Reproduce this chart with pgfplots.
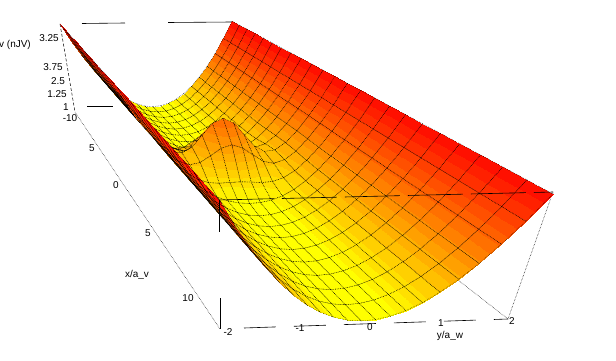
\documentclass[border=0pt]{standalone}
\usepackage{pgfplots}
\usepackage{pgfplotstable}
\pgfplotsset{compat=1.18}
\usepackage{fontspec}
\setmainfont{Liberation Sans}
\def\Ss{((\thisrow{x}+2)/4)}
\def\Tt{((\thisrow{y}+11)/23)}
\def\Rr{((\thisrow{z}+0.5)/8)}
\def\Ww{(1+0.00115*\Ss-0.442*\Tt-0.0908*\Rr)}
\def\Uu{(75+156.65*\Ss+47.8*\Tt-20.45*\Rr)/\Ww}
\def\Vv{(112-2.6*\Ss+71.6*\Tt-90.18*\Rr)/\Ww}
\pgfplotstableread[row sep=\\]{
x y z\\
2 -11 7.5\\1.8 -11 6.056\\1.6 -11 4.764\\1.4 -11 3.624\\1.2 -11 2.636\\1 -11 1.8\\.8 -11 1.116\\.6 -11 .584\\.4 -11 .204\\.2 -11 -.024\\0 -11 -.1\\-.2 -11 -.024\\-.4 -11 .204\\-.6 -11 .584\\-.8 -11 1.116\\-1 -11 1.8\\-1.2 -11 2.636\\-1.4 -11 3.624\\-1.6 -11 4.764\\-1.8 -11 6.056\\-2 -11 7.5\\
2 -10 7.5\\1.8 -10 6.056\\1.6 -10 4.764\\1.4 -10 3.624\\1.2 -10 2.636\\1 -10 1.8\\.8 -10 1.116\\.6 -10 .584\\.4 -10 .204\\.2 -10 -.024\\0 -10 -.1\\-.2 -10 -.024\\-.4 -10 .204\\-.6 -10 .584\\-.8 -10 1.116\\-1 -10 1.8\\-1.2 -10 2.636\\-1.4 -10 3.624\\-1.6 -10 4.764\\-1.8 -10 6.056\\-2 -10 7.5\\
2 -9 7.5\\1.8 -9 6.056\\1.6 -9 4.764\\1.4 -9 3.624\\1.2 -9 2.636\\1 -9 1.8\\.8 -9 1.116\\.6 -9 .584\\.4 -9 .204\\.2 -9 -.024\\0 -9 -.1\\-.2 -9 -.024\\-.4 -9 .204\\-.6 -9 .584\\-.8 -9 1.116\\-1 -9 1.8\\-1.2 -9 2.636\\-1.4 -9 3.624\\-1.6 -9 4.764\\-1.8 -9 6.056\\-2 -9 7.5\\
2 -8 7.5\\1.8 -8 6.056\\1.6 -8 4.764\\1.4 -8 3.624\\1.2 -8 2.636\\1 -8 1.8\\.8 -8 1.116\\.6 -8 .584\\.4 -8 .204\\.2 -8 -.024\\0 -8 -.1\\-.2 -8 -.024\\-.4 -8 .204\\-.6 -8 .584\\-.8 -8 1.116\\-1 -8 1.8\\-1.2 -8 2.636\\-1.4 -8 3.624\\-1.6 -8 4.764\\-1.8 -8 6.056\\-2 -8 7.5\\
2 -7 7.5\\1.8 -7 6.056\\1.6 -7 4.764\\1.4 -7 3.624\\1.2 -7 2.636\\1 -7 1.8\\.8 -7 1.116\\.6 -7 .584\\.4 -7 .204\\.2 -7 -.024\\0 -7 -.1\\-.2 -7 -.024\\-.4 -7 .204\\-.6 -7 .584\\-.8 -7 1.116\\-1 -7 1.8\\-1.2 -7 2.636\\-1.4 -7 3.624\\-1.6 -7 4.764\\-1.8 -7 6.056\\-2 -7 7.5\\
2 -6 7.5\\1.8 -6 6.056\\1.6 -6 4.764\\1.4 -6 3.624\\1.2 -6 2.636\\1 -6 1.8\\.8 -6 1.116\\.6 -6 .584\\.4 -6 .204\\.2 -6 -.024\\0 -6 -.1\\-.2 -6 -.024\\-.4 -6 .204\\-.6 -6 .584\\-.8 -6 1.116\\-1 -6 1.8\\-1.2 -6 2.636\\-1.4 -6 3.624\\-1.6 -6 4.764\\-1.8 -6 6.056\\-2 -6 7.5\\
2 -5 7.5\\1.8 -5 6.056\\1.6 -5 4.764\\1.4 -5 3.624\\1.2 -5 2.636\\1 -5 1.8\\.8 -5 1.116\\.6 -5 .584\\.4 -5 .204\\.2 -5 -.024\\0 -5 -.1\\-.2 -5 -.024\\-.4 -5 .204\\-.6 -5 .584\\-.8 -5 1.116\\-1 -5 1.8\\-1.2 -5 2.636\\-1.4 -5 3.624\\-1.6 -5 4.764\\-1.8 -5 6.056\\-2 -5 7.5\\
2 -4 7.5\\1.8 -4 6.056\\1.6 -4 4.764\\1.4 -4 3.624\\1.2 -4 2.637\\1 -4 1.802\\.8 -4 1.12\\.6 -4 .592\\.4 -4 .217\\.2 -4 -.007\\0 -4 -.081\\-.2 -4 -.007\\-.4 -4 .217\\-.6 -4 .592\\-.8 -4 1.12\\-1 -4 1.802\\-1.2 -4 2.637\\-1.4 -4 3.624\\-1.6 -4 4.764\\-1.8 -4 6.056\\-2 -4 7.5\\
2 -3 7.5\\1.8 -3 6.056\\1.6 -3 4.764\\1.4 -3 3.626\\1.2 -3 2.642\\1 -3 1.818\\.8 -3 1.16\\.6 -3 .671\\.4 -3 .346\\.2 -3 .167\\0 -3 .111\\-.2 -3 .167\\-.4 -3 .346\\-.6 -3 .671\\-.8 -3 1.16\\-1 -3 1.818\\-1.2 -3 2.642\\-1.4 -3 3.626\\-1.6 -3 4.764\\-1.8 -3 6.056\\-2 -3 7.5\\
2 -2 7.5\\1.8 -2 6.056\\1.6 -2 4.766\\1.4 -2 3.633\\1.2 -2 2.67\\1 -2 1.901\\.8 -2 1.362\\.6 -2 1.075\\.4 -2 1.01\\.2 -2 1.059\\0 -2 1.095\\-.2 -2 1.059\\-.4 -2 1.01\\-.6 -2 1.075\\-.8 -2 1.362\\-1 -2 1.901\\-1.2 -2 2.67\\-1.4 -2 3.633\\-1.6 -2 4.766\\-1.8 -2 6.056\\-2 -2 7.5\\
2 -1 7.5\\1.8 -1 6.056\\1.6 -1 4.77\\1.4 -1 3.651\\1.2 -1 2.733\\1 -1 2.088\\.8 -1 1.815\\.6 -1 1.979\\.4 -1 2.491\\.2 -1 3.051\\0 -1 3.294\\-.2 -1 3.051\\-.4 -1 2.491\\-.6 -1 1.979\\-.8 -1 1.815\\-1 -1 2.088\\-1.2 -1 2.733\\-1.4 -1 3.651\\-1.6 -1 4.77\\-1.8 -1 6.056\\-2 -1 7.5\\
2 0 7.5\\1.8 0 6.056\\1.6 0 4.773\\1.4 0 3.662\\1.2 0 2.773\\1 0 2.207\\.8 0 2.105\\.6 0 2.557\\.4 0 3.439\\.2 0 4.325\\0 0 4.7\\-.2 0 4.325\\-.4 0 3.439\\-.6 0 2.557\\-.8 0 2.105\\-1 0 2.207\\-1.2 0 2.773\\-1.4 0 3.662\\-1.6 0 4.773\\-1.8 0 6.056\\-2 0 7.5\\
}\surfback
\pgfplotstableread[row sep=\\]{
x y z\\
2 0 7.5\\1.8 0 6.056\\1.6 0 4.773\\1.4 0 3.662\\1.2 0 2.773\\1 0 2.207\\.8 0 2.105\\.6 0 2.557\\.4 0 3.439\\.2 0 4.325\\0 0 4.7\\-.2 0 4.325\\-.4 0 3.439\\-.6 0 2.557\\-.8 0 2.105\\-1 0 2.207\\-1.2 0 2.773\\-1.4 0 3.662\\-1.6 0 4.773\\-1.8 0 6.056\\-2 0 7.5\\
2 1 7.5\\1.8 1 6.056\\1.6 1 4.77\\1.4 1 3.651\\1.2 1 2.733\\1 1 2.088\\.8 1 1.815\\.6 1 1.979\\.4 1 2.491\\.2 1 3.051\\0 1 3.294\\-.2 1 3.051\\-.4 1 2.491\\-.6 1 1.979\\-.8 1 1.815\\-1 1 2.088\\-1.2 1 2.733\\-1.4 1 3.651\\-1.6 1 4.77\\-1.8 1 6.056\\-2 1 7.5\\
2 2 7.5\\1.8 2 6.056\\1.6 2 4.766\\1.4 2 3.633\\1.2 2 2.67\\1 2 1.901\\.8 2 1.362\\.6 2 1.075\\.4 2 1.01\\.2 2 1.059\\0 2 1.095\\-.2 2 1.059\\-.4 2 1.01\\-.6 2 1.075\\-.8 2 1.362\\-1 2 1.901\\-1.2 2 2.67\\-1.4 2 3.633\\-1.6 2 4.766\\-1.8 2 6.056\\-2 2 7.5\\
2 3 7.5\\1.8 3 6.056\\1.6 3 4.764\\1.4 3 3.626\\1.2 3 2.642\\1 3 1.818\\.8 3 1.16\\.6 3 .671\\.4 3 .346\\.2 3 .167\\0 3 .111\\-.2 3 .167\\-.4 3 .346\\-.6 3 .671\\-.8 3 1.16\\-1 3 1.818\\-1.2 3 2.642\\-1.4 3 3.626\\-1.6 3 4.764\\-1.8 3 6.056\\-2 3 7.5\\
2 4 7.5\\1.8 4 6.056\\1.6 4 4.764\\1.4 4 3.624\\1.2 4 2.637\\1 4 1.802\\.8 4 1.12\\.6 4 .592\\.4 4 .217\\.2 4 -.007\\0 4 -.081\\-.2 4 -.007\\-.4 4 .217\\-.6 4 .592\\-.8 4 1.12\\-1 4 1.802\\-1.2 4 2.637\\-1.4 4 3.624\\-1.6 4 4.764\\-1.8 4 6.056\\-2 4 7.5\\
2 5 7.5\\1.8 5 6.056\\1.6 5 4.764\\1.4 5 3.624\\1.2 5 2.636\\1 5 1.8\\.8 5 1.116\\.6 5 .584\\.4 5 .204\\.2 5 -.024\\0 5 -.1\\-.2 5 -.024\\-.4 5 .204\\-.6 5 .584\\-.8 5 1.116\\-1 5 1.8\\-1.2 5 2.636\\-1.4 5 3.624\\-1.6 5 4.764\\-1.8 5 6.056\\-2 5 7.5\\
2 6 7.5\\1.8 6 6.056\\1.6 6 4.764\\1.4 6 3.624\\1.2 6 2.636\\1 6 1.8\\.8 6 1.116\\.6 6 .584\\.4 6 .204\\.2 6 -.024\\0 6 -.1\\-.2 6 -.024\\-.4 6 .204\\-.6 6 .584\\-.8 6 1.116\\-1 6 1.8\\-1.2 6 2.636\\-1.4 6 3.624\\-1.6 6 4.764\\-1.8 6 6.056\\-2 6 7.5\\
2 7 7.5\\1.8 7 6.056\\1.6 7 4.764\\1.4 7 3.624\\1.2 7 2.636\\1 7 1.8\\.8 7 1.116\\.6 7 .584\\.4 7 .204\\.2 7 -.024\\0 7 -.1\\-.2 7 -.024\\-.4 7 .204\\-.6 7 .584\\-.8 7 1.116\\-1 7 1.8\\-1.2 7 2.636\\-1.4 7 3.624\\-1.6 7 4.764\\-1.8 7 6.056\\-2 7 7.5\\
2 8 7.5\\1.8 8 6.056\\1.6 8 4.764\\1.4 8 3.624\\1.2 8 2.636\\1 8 1.8\\.8 8 1.116\\.6 8 .584\\.4 8 .204\\.2 8 -.024\\0 8 -.1\\-.2 8 -.024\\-.4 8 .204\\-.6 8 .584\\-.8 8 1.116\\-1 8 1.8\\-1.2 8 2.636\\-1.4 8 3.624\\-1.6 8 4.764\\-1.8 8 6.056\\-2 8 7.5\\
2 9 7.5\\1.8 9 6.056\\1.6 9 4.764\\1.4 9 3.624\\1.2 9 2.636\\1 9 1.8\\.8 9 1.116\\.6 9 .584\\.4 9 .204\\.2 9 -.024\\0 9 -.1\\-.2 9 -.024\\-.4 9 .204\\-.6 9 .584\\-.8 9 1.116\\-1 9 1.8\\-1.2 9 2.636\\-1.4 9 3.624\\-1.6 9 4.764\\-1.8 9 6.056\\-2 9 7.5\\
2 10 7.5\\1.8 10 6.056\\1.6 10 4.764\\1.4 10 3.624\\1.2 10 2.636\\1 10 1.8\\.8 10 1.116\\.6 10 .584\\.4 10 .204\\.2 10 -.024\\0 10 -.1\\-.2 10 -.024\\-.4 10 .204\\-.6 10 .584\\-.8 10 1.116\\-1 10 1.8\\-1.2 10 2.636\\-1.4 10 3.624\\-1.6 10 4.764\\-1.8 10 6.056\\-2 10 7.5\\
2 11 7.5\\1.8 11 6.056\\1.6 11 4.764\\1.4 11 3.624\\1.2 11 2.636\\1 11 1.8\\.8 11 1.116\\.6 11 .584\\.4 11 .204\\.2 11 -.024\\0 11 -.1\\-.2 11 -.024\\-.4 11 .204\\-.6 11 .584\\-.8 11 1.116\\-1 11 1.8\\-1.2 11 2.636\\-1.4 11 3.624\\-1.6 11 4.764\\-1.8 11 6.056\\-2 11 7.5\\
2 12 7.5\\1.8 12 6.056\\1.6 12 4.764\\1.4 12 3.624\\1.2 12 2.636\\1 12 1.8\\.8 12 1.116\\.6 12 .584\\.4 12 .204\\.2 12 -.024\\0 12 -.1\\-.2 12 -.024\\-.4 12 .204\\-.6 12 .584\\-.8 12 1.116\\-1 12 1.8\\-1.2 12 2.636\\-1.4 12 3.624\\-1.6 12 4.764\\-1.8 12 6.056\\-2 12 7.5\\
}\surffront
\begin{document}
\begin{tikzpicture}
\useasboundingbox (0,0) rectangle (616bp,361bp);
\begin{axis}[
  at={(0,0)}, anchor=south west,
  scale only axis, width=616bp, height=361bp,
  xmin=0, xmax=616, ymin=0, ymax=361, y dir=reverse,
  hide axis, clip=true,
  point meta min=-0.1, point meta max=7.5,
  colormap={bands}{rgb255=(255,255,0) rgb255=(255,240,0) rgb255=(255,224,0) rgb255=(255,208,0) rgb255=(255,192,0) rgb255=(255,176,0) rgb255=(255,160,0) rgb255=(255,144,0) rgb255=(255,128,0) rgb255=(255,112,0) rgb255=(255,96,0) rgb255=(255,80,0) rgb255=(255,64,0) rgb255=(255,48,0) rgb255=(255,32,0) rgb255=(255,16,0)},
  colormap access=piecewise constant,
  every node/.style={font=\fontsize{6}{7}\selectfont, inner sep=0pt, text=black},
  gridstyle/.style={surf, shader=faceted, faceted color=black, fill opacity=0, line width=.35pt,
    dash pattern=on .6pt off 1.1pt, z buffer=none, point meta=explicit, forget plot},
]
% hidden back edges of the box
\addplot[black, line width=.6pt, forget plot] coordinates {(82,23.5) (125,23)};
\addplot[black, line width=.6pt, forget plot] coordinates {(168,22.5) (232,22)};
\addplot[black, line width=.6pt, forget plot] coordinates {(87,106) (113,106)};
\addplot[black, line width=.5pt, densely dotted, forget plot] coordinates {(458,280) (508,319)};
\addplot[black, line width=.5pt, densely dotted, forget plot] coordinates {(75,112) (220,329)};
\addplot[black, line width=.5pt, densely dotted, forget plot] coordinates {(553,192) (508,319)};
\addplot[black, line width=.5pt, densely dashed, forget plot] coordinates {(60,24) (75,112)};
\addplot[black, line width=.6pt, dash pattern=on 32bp off 18bp, forget plot] coordinates {(244,328) (508,319)};
\addplot[black, line width=.6pt, forget plot] coordinates {(220,298) (220,329)};
% surface, back half (up to the crest of the bump)
\addplot[surf, shader=interp, mesh/cols=21, mesh/rows=12, z buffer=none, point meta=explicit]
  table[x expr={\Uu}, y expr={\Vv}, meta expr={\thisrow{z}}] {\surfback};
\addplot[gridstyle, mesh/cols=21, mesh/rows=12]
  table[x expr={\Uu}, y expr={\Vv}, meta expr={\thisrow{z}}] {\surfback};
% surface, front half
\addplot[surf, shader=interp, mesh/cols=21, mesh/rows=13, z buffer=none, point meta=explicit]
  table[x expr={\Uu}, y expr={\Vv}, meta expr={\thisrow{z}}] {\surffront};
\addplot[gridstyle, mesh/cols=21, mesh/rows=13]
  table[x expr={\Uu}, y expr={\Vv}, meta expr={\thisrow{z}}] {\surffront};
% front edges
\addplot[black, line width=.6pt, dash pattern=on 55bp off 8bp, forget plot] coordinates {(219,200) (553,192)};
\addplot[black, line width=.6pt, forget plot] coordinates {(219.5,200) (219.5,232)};
% labels
\node at (axis cs:15,45) {v (nJV)};
\node at (axis cs:49,38) {3.25};
\node at (axis cs:53,67) {3.75};
\node at (axis cs:58,81) {2.5};
\node at (axis cs:57,94) {1.25};
\node at (axis cs:66,107) {1};
\node at (axis cs:70,118) {-10};
\node at (axis cs:92,148) {5};
\node at (axis cs:116,185) {0};
\node at (axis cs:148,233) {5};
\node at (axis cs:188,298) {10};
\node at (axis cs:137,275) {x/a\_v};
\node at (axis cs:228,332) {-2};
\node at (axis cs:300,328) {-1};
\node at (axis cs:370,327) {0};
\node at (axis cs:441,323) {1};
\node at (axis cs:512,321) {2};
\node at (axis cs:450,336) {y/a\_w};
\end{axis}
\end{tikzpicture}
\end{document}
